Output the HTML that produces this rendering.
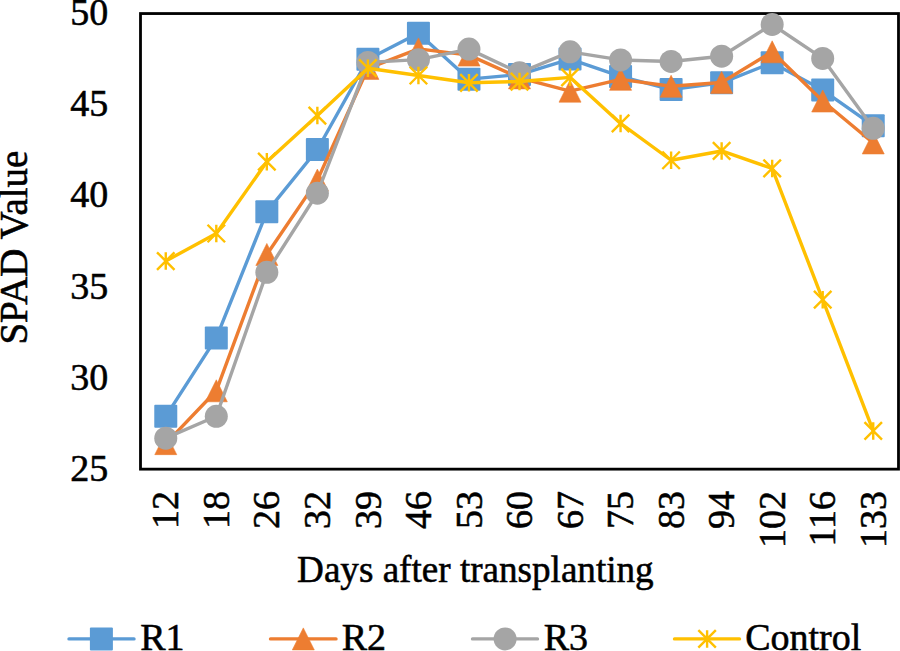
<!DOCTYPE html>
<html><head><meta charset="utf-8"><style>
html,body{margin:0;padding:0;background:#fff;}
body{width:900px;height:651px;overflow:hidden;}
svg{display:block;}
.t{font-family:"Liberation Serif",serif;font-size:38px;fill:#000;stroke:#000;stroke-width:0.55px;}
</style></head><body>
<svg width="900" height="651" viewBox="0 0 900 651">
<rect x="140.5" y="13.55" width="758.0" height="455.59999999999997" fill="none" stroke="#000" stroke-width="2.8"/>
<text x="108.3" y="480.85" text-anchor="end" class="t">25</text>
<text x="108.3" y="389.73" text-anchor="end" class="t">30</text>
<text x="108.3" y="298.61" text-anchor="end" class="t">35</text>
<text x="108.3" y="207.49" text-anchor="end" class="t">40</text>
<text x="108.3" y="116.37" text-anchor="end" class="t">45</text>
<text x="108.3" y="25.25" text-anchor="end" class="t">50</text>
<text transform="translate(178.37,491.0) rotate(-90)" text-anchor="end" class="t">12</text>
<text transform="translate(228.90,491.0) rotate(-90)" text-anchor="end" class="t">18</text>
<text transform="translate(279.43,491.0) rotate(-90)" text-anchor="end" class="t">26</text>
<text transform="translate(329.97,491.0) rotate(-90)" text-anchor="end" class="t">32</text>
<text transform="translate(380.50,491.0) rotate(-90)" text-anchor="end" class="t">39</text>
<text transform="translate(431.03,491.0) rotate(-90)" text-anchor="end" class="t">46</text>
<text transform="translate(481.57,491.0) rotate(-90)" text-anchor="end" class="t">53</text>
<text transform="translate(532.10,491.0) rotate(-90)" text-anchor="end" class="t">60</text>
<text transform="translate(582.63,491.0) rotate(-90)" text-anchor="end" class="t">67</text>
<text transform="translate(633.17,491.0) rotate(-90)" text-anchor="end" class="t">75</text>
<text transform="translate(683.70,491.0) rotate(-90)" text-anchor="end" class="t">83</text>
<text transform="translate(734.23,491.0) rotate(-90)" text-anchor="end" class="t">94</text>
<text transform="translate(784.77,491.0) rotate(-90)" text-anchor="end" class="t">102</text>
<text transform="translate(835.30,491.0) rotate(-90)" text-anchor="end" class="t">116</text>
<text transform="translate(885.83,491.0) rotate(-90)" text-anchor="end" class="t">133</text>
<text transform="translate(26.9,344.6) rotate(-90)" class="t" style="font-size:39px">SPAD Value</text>
<text transform="translate(297.1,581.6) scale(0.977,1)" class="t">Days after transplanting</text>
<polyline points="165.77,416.30 216.30,337.94 266.83,211.83 317.37,149.50 367.90,59.29 418.43,33.23 468.97,79.16 519.50,74.51 570.03,59.11 620.57,76.42 671.10,89.54 721.63,82.80 772.17,62.75 822.70,90.09 873.23,125.63" fill="none" stroke="#5B9BD5" stroke-width="3.4" stroke-linejoin="round" stroke-linecap="round"/>
<rect x="154.27" y="404.80" width="23" height="23" rx="1" fill="#5B9BD5"/>
<rect x="204.80" y="326.44" width="23" height="23" rx="1" fill="#5B9BD5"/>
<rect x="255.33" y="200.33" width="23" height="23" rx="1" fill="#5B9BD5"/>
<rect x="305.87" y="138.00" width="23" height="23" rx="1" fill="#5B9BD5"/>
<rect x="356.40" y="47.79" width="23" height="23" rx="1" fill="#5B9BD5"/>
<rect x="406.93" y="21.73" width="23" height="23" rx="1" fill="#5B9BD5"/>
<rect x="457.47" y="67.66" width="23" height="23" rx="1" fill="#5B9BD5"/>
<rect x="508.00" y="63.01" width="23" height="23" rx="1" fill="#5B9BD5"/>
<rect x="558.53" y="47.61" width="23" height="23" rx="1" fill="#5B9BD5"/>
<rect x="609.07" y="64.92" width="23" height="23" rx="1" fill="#5B9BD5"/>
<rect x="659.60" y="78.04" width="23" height="23" rx="1" fill="#5B9BD5"/>
<rect x="710.13" y="71.30" width="23" height="23" rx="1" fill="#5B9BD5"/>
<rect x="760.67" y="51.25" width="23" height="23" rx="1" fill="#5B9BD5"/>
<rect x="811.20" y="78.59" width="23" height="23" rx="1" fill="#5B9BD5"/>
<rect x="861.73" y="114.13" width="23" height="23" rx="1" fill="#5B9BD5"/>
<polyline points="165.77,443.64 216.30,390.79 266.83,254.47 317.37,180.12 367.90,68.40 418.43,48.90 468.97,55.10 519.50,77.88 570.03,91.18 620.57,79.34 671.10,86.26 721.63,82.44 772.17,51.82 822.70,101.03 873.23,142.94" fill="none" stroke="#ED7D31" stroke-width="3.4" stroke-linejoin="round" stroke-linecap="round"/>
<path d="M165.77,432.64 L176.77,454.64 L154.77,454.64 Z" fill="#ED7D31" stroke="#ED7D31" stroke-width="0.6" stroke-linejoin="round"/>
<path d="M216.30,379.79 L227.30,401.79 L205.30,401.79 Z" fill="#ED7D31" stroke="#ED7D31" stroke-width="0.6" stroke-linejoin="round"/>
<path d="M266.83,243.47 L277.83,265.47 L255.83,265.47 Z" fill="#ED7D31" stroke="#ED7D31" stroke-width="0.6" stroke-linejoin="round"/>
<path d="M317.37,169.12 L328.37,191.12 L306.37,191.12 Z" fill="#ED7D31" stroke="#ED7D31" stroke-width="0.6" stroke-linejoin="round"/>
<path d="M367.90,57.40 L378.90,79.40 L356.90,79.40 Z" fill="#ED7D31" stroke="#ED7D31" stroke-width="0.6" stroke-linejoin="round"/>
<path d="M418.43,37.90 L429.43,59.90 L407.43,59.90 Z" fill="#ED7D31" stroke="#ED7D31" stroke-width="0.6" stroke-linejoin="round"/>
<path d="M468.97,44.10 L479.97,66.10 L457.97,66.10 Z" fill="#ED7D31" stroke="#ED7D31" stroke-width="0.6" stroke-linejoin="round"/>
<path d="M519.50,66.88 L530.50,88.88 L508.50,88.88 Z" fill="#ED7D31" stroke="#ED7D31" stroke-width="0.6" stroke-linejoin="round"/>
<path d="M570.03,80.18 L581.03,102.18 L559.03,102.18 Z" fill="#ED7D31" stroke="#ED7D31" stroke-width="0.6" stroke-linejoin="round"/>
<path d="M620.57,68.34 L631.57,90.34 L609.57,90.34 Z" fill="#ED7D31" stroke="#ED7D31" stroke-width="0.6" stroke-linejoin="round"/>
<path d="M671.10,75.26 L682.10,97.26 L660.10,97.26 Z" fill="#ED7D31" stroke="#ED7D31" stroke-width="0.6" stroke-linejoin="round"/>
<path d="M721.63,71.44 L732.63,93.44 L710.63,93.44 Z" fill="#ED7D31" stroke="#ED7D31" stroke-width="0.6" stroke-linejoin="round"/>
<path d="M772.17,40.82 L783.17,62.82 L761.17,62.82 Z" fill="#ED7D31" stroke="#ED7D31" stroke-width="0.6" stroke-linejoin="round"/>
<path d="M822.70,90.03 L833.70,112.03 L811.70,112.03 Z" fill="#ED7D31" stroke="#ED7D31" stroke-width="0.6" stroke-linejoin="round"/>
<path d="M873.23,131.94 L884.23,153.94 L862.23,153.94 Z" fill="#ED7D31" stroke="#ED7D31" stroke-width="0.6" stroke-linejoin="round"/>
<polyline points="165.77,438.17 216.30,416.30 266.83,272.33 317.37,193.24 367.90,62.39 418.43,59.66 468.97,49.09 519.50,72.87 570.03,51.82 620.57,59.93 671.10,61.48 721.63,56.19 772.17,24.48 822.70,58.38 873.23,128.36" fill="none" stroke="#A5A5A5" stroke-width="3.4" stroke-linejoin="round" stroke-linecap="round"/>
<circle cx="165.77" cy="438.17" r="11.50" fill="#A5A5A5"/>
<circle cx="216.30" cy="416.30" r="11.50" fill="#A5A5A5"/>
<circle cx="266.83" cy="272.33" r="11.50" fill="#A5A5A5"/>
<circle cx="317.37" cy="193.24" r="11.50" fill="#A5A5A5"/>
<circle cx="367.90" cy="62.39" r="11.50" fill="#A5A5A5"/>
<circle cx="418.43" cy="59.66" r="11.50" fill="#A5A5A5"/>
<circle cx="468.97" cy="49.09" r="11.50" fill="#A5A5A5"/>
<circle cx="519.50" cy="72.87" r="11.50" fill="#A5A5A5"/>
<circle cx="570.03" cy="51.82" r="11.50" fill="#A5A5A5"/>
<circle cx="620.57" cy="59.93" r="11.50" fill="#A5A5A5"/>
<circle cx="671.10" cy="61.48" r="11.50" fill="#A5A5A5"/>
<circle cx="721.63" cy="56.19" r="11.50" fill="#A5A5A5"/>
<circle cx="772.17" cy="24.48" r="11.50" fill="#A5A5A5"/>
<circle cx="822.70" cy="58.38" r="11.50" fill="#A5A5A5"/>
<circle cx="873.23" cy="128.36" r="11.50" fill="#A5A5A5"/>
<polyline points="165.77,261.03 216.30,233.51 266.83,161.71 317.37,115.60 367.90,68.22 418.43,75.51 468.97,82.80 519.50,81.53 570.03,77.33 620.57,123.44 671.10,160.25 721.63,150.96 772.17,168.45 822.70,299.67 873.23,430.88" fill="none" stroke="#FFC000" stroke-width="3.4" stroke-linejoin="round" stroke-linecap="round"/>
<path d="M157.02,252.28 L174.52,269.78 M174.52,252.28 L157.02,269.78 M165.77,252.28 L165.77,269.78" stroke="#FFC000" stroke-width="2.4" fill="none" stroke-linecap="butt"/>
<path d="M207.55,224.76 L225.05,242.26 M225.05,224.76 L207.55,242.26 M216.30,224.76 L216.30,242.26" stroke="#FFC000" stroke-width="2.4" fill="none" stroke-linecap="butt"/>
<path d="M258.08,152.96 L275.58,170.46 M275.58,152.96 L258.08,170.46 M266.83,152.96 L266.83,170.46" stroke="#FFC000" stroke-width="2.4" fill="none" stroke-linecap="butt"/>
<path d="M308.62,106.85 L326.12,124.35 M326.12,106.85 L308.62,124.35 M317.37,106.85 L317.37,124.35" stroke="#FFC000" stroke-width="2.4" fill="none" stroke-linecap="butt"/>
<path d="M359.15,59.47 L376.65,76.97 M376.65,59.47 L359.15,76.97 M367.90,59.47 L367.90,76.97" stroke="#FFC000" stroke-width="2.4" fill="none" stroke-linecap="butt"/>
<path d="M409.68,66.76 L427.18,84.26 M427.18,66.76 L409.68,84.26 M418.43,66.76 L418.43,84.26" stroke="#FFC000" stroke-width="2.4" fill="none" stroke-linecap="butt"/>
<path d="M460.22,74.05 L477.72,91.55 M477.72,74.05 L460.22,91.55 M468.97,74.05 L468.97,91.55" stroke="#FFC000" stroke-width="2.4" fill="none" stroke-linecap="butt"/>
<path d="M510.75,72.78 L528.25,90.28 M528.25,72.78 L510.75,90.28 M519.50,72.78 L519.50,90.28" stroke="#FFC000" stroke-width="2.4" fill="none" stroke-linecap="butt"/>
<path d="M561.28,68.58 L578.78,86.08 M578.78,68.58 L561.28,86.08 M570.03,68.58 L570.03,86.08" stroke="#FFC000" stroke-width="2.4" fill="none" stroke-linecap="butt"/>
<path d="M611.82,114.69 L629.32,132.19 M629.32,114.69 L611.82,132.19 M620.57,114.69 L620.57,132.19" stroke="#FFC000" stroke-width="2.4" fill="none" stroke-linecap="butt"/>
<path d="M662.35,151.50 L679.85,169.00 M679.85,151.50 L662.35,169.00 M671.10,151.50 L671.10,169.00" stroke="#FFC000" stroke-width="2.4" fill="none" stroke-linecap="butt"/>
<path d="M712.88,142.21 L730.38,159.71 M730.38,142.21 L712.88,159.71 M721.63,142.21 L721.63,159.71" stroke="#FFC000" stroke-width="2.4" fill="none" stroke-linecap="butt"/>
<path d="M763.42,159.70 L780.92,177.20 M780.92,159.70 L763.42,177.20 M772.17,159.70 L772.17,177.20" stroke="#FFC000" stroke-width="2.4" fill="none" stroke-linecap="butt"/>
<path d="M813.95,290.92 L831.45,308.42 M831.45,290.92 L813.95,308.42 M822.70,290.92 L822.70,308.42" stroke="#FFC000" stroke-width="2.4" fill="none" stroke-linecap="butt"/>
<path d="M864.48,422.13 L881.98,439.63 M881.98,422.13 L864.48,439.63 M873.23,422.13 L873.23,439.63" stroke="#FFC000" stroke-width="2.4" fill="none" stroke-linecap="butt"/>
<line x1="69" y1="638.9" x2="134" y2="638.9" stroke="#5B9BD5" stroke-width="3.4" stroke-linecap="round"/>
<rect x="89.90" y="627.40" width="23" height="23" rx="1" fill="#5B9BD5"/>
<text x="140.2" y="650.2" class="t">R1</text>
<line x1="270.5" y1="638.9" x2="336" y2="638.9" stroke="#ED7D31" stroke-width="3.4" stroke-linecap="round"/>
<path d="M303.30,627.90 L314.30,649.90 L292.30,649.90 Z" fill="#ED7D31" stroke="#ED7D31" stroke-width="0.6" stroke-linejoin="round"/>
<text x="341.7" y="650.2" class="t">R2</text>
<line x1="472.5" y1="638.9" x2="537.5" y2="638.9" stroke="#A5A5A5" stroke-width="3.4" stroke-linecap="round"/>
<circle cx="505.10" cy="638.90" r="11.50" fill="#A5A5A5"/>
<text x="543.7" y="650.2" class="t">R3</text>
<line x1="674.5" y1="638.9" x2="739.5" y2="638.9" stroke="#FFC000" stroke-width="3.4" stroke-linecap="round"/>
<path d="M698.35,630.15 L715.85,647.65 M715.85,630.15 L698.35,647.65 M707.10,630.15 L707.10,647.65" stroke="#FFC000" stroke-width="2.4" fill="none" stroke-linecap="butt"/>
<text x="745.2" y="650.2" class="t">Control</text>
</svg>
</body></html>
